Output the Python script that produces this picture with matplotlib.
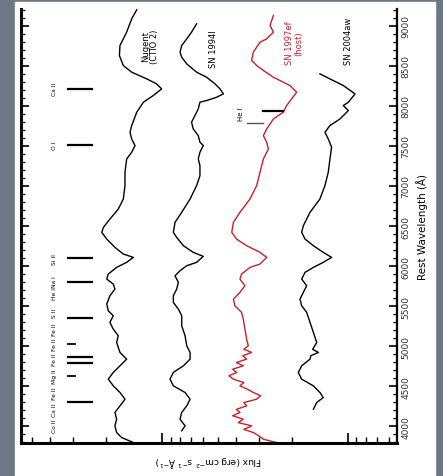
import matplotlib
matplotlib.use("Agg")
import matplotlib.pyplot as plt
import numpy as np
from matplotlib.patches import Rectangle
from matplotlib.ticker import MultipleLocator, LogLocator, NullFormatter

# spectra: rest wavelength (A) and log10 flux (+ const)
s1_wave = [9200, 9087, 8921, 8754, 8629, 8504, 8421, 8337, 8275, 8212, 8129, 8046,
           7921, 7754, 7671, 7587, 7504, 7421, 7337, 7171, 7004, 6837, 6712, 6587,
           6483, 6421, 6337, 6233, 6150, 6108, 6046, 5983, 5900, 5837, 5775, 5712,
           5629, 5525, 5442, 5379, 5296, 5212, 5129, 5046, 4921, 4837, 4754, 4671,
           4587, 4504, 4421, 4337, 4254, 4171, 4087, 4004, 3921, 3858, 3796]
s1_logf = [1.136, 1.163, 1.190, 1.226, 1.229, 1.208, 1.163, 1.082, 1.029, 1.002, 1.047, 1.100,
           1.136, 1.163, 1.172, 1.163, 1.145, 1.163, 1.190, 1.199, 1.199, 1.208, 1.235, 1.280,
           1.315, 1.324, 1.297, 1.253, 1.208, 1.154, 1.190, 1.244, 1.289, 1.297, 1.262, 1.253,
           1.280, 1.297, 1.289, 1.262, 1.280, 1.262, 1.235, 1.244, 1.226, 1.190, 1.226, 1.262,
           1.289, 1.262, 1.226, 1.199, 1.226, 1.253, 1.244, 1.253, 1.244, 1.217, 1.154]

s2_wave = [9025, 8921, 8837, 8754, 8671, 8608, 8525, 8421, 8358, 8275, 8212, 8150,
           8108, 8067, 8046, 7962, 7879, 7796, 7712, 7629, 7546, 7504, 7421, 7337,
           7254, 7129, 7004, 6837, 6671, 6546, 6421, 6358, 6254, 6171, 6121, 6046,
           6004, 5942, 5879, 5796, 5712, 5629, 5546, 5462, 5379, 5254, 5129, 5004,
           4921, 4837, 4754, 4671, 4587, 4504, 4421, 4337, 4254, 4171, 4087, 4004, 3942]
s2_logf = [0.814, 0.841, 0.867, 0.894, 0.903, 0.894, 0.867, 0.814, 0.760, 0.715, 0.688, 0.670,
           0.706, 0.760, 0.796, 0.805, 0.823, 0.841, 0.832, 0.805, 0.796, 0.778, 0.796, 0.805,
           0.796, 0.796, 0.814, 0.849, 0.894, 0.930, 0.939, 0.921, 0.885, 0.832, 0.778, 0.814,
           0.867, 0.903, 0.930, 0.912, 0.921, 0.939, 0.939, 0.912, 0.894, 0.894, 0.876, 0.867,
           0.849, 0.849, 0.885, 0.939, 0.957, 0.939, 0.876, 0.849, 0.867, 0.894, 0.903, 0.876, 0.894]

s3_wave = [9129, 9004, 8921, 8837, 8796, 8671, 8567, 8504, 8442, 8358, 8296, 8254,
           8171, 8087, 8004, 7921, 7837, 7712, 7629, 7546, 7462, 7337, 7171, 7004,
           6837, 6671, 6546, 6421, 6337, 6254, 6171, 6108, 6025, 5983, 5900, 5837,
           5754, 5671, 5587, 5504, 5421, 5337, 5212, 5087, 5004, 4960, 4921, 4880,
           4837, 4795, 4754, 4712, 4671, 4630, 4587, 4545, 4504, 4460, 4421, 4380,
           4337, 4295, 4254, 4210, 4171, 4130, 4087, 4045, 4004, 3960, 3921, 3880,
           3837, 3796]
s3_logf = [0.401, 0.419, 0.401, 0.437, 0.473, 0.509, 0.518, 0.491, 0.455, 0.401, 0.348, 0.312,
           0.276, 0.303, 0.330, 0.348, 0.401, 0.437, 0.455, 0.437, 0.428, 0.455, 0.473, 0.491,
           0.527, 0.581, 0.616, 0.625, 0.599, 0.545, 0.473, 0.437, 0.473, 0.527, 0.572, 0.581,
           0.554, 0.581, 0.616, 0.608, 0.572, 0.563, 0.554, 0.545, 0.536, 0.560, 0.518, 0.565,
           0.545, 0.600, 0.563, 0.620, 0.599, 0.640, 0.616, 0.560, 0.581, 0.540, 0.509, 0.470,
           0.491, 0.560, 0.545, 0.600, 0.581, 0.620, 0.563, 0.590, 0.518, 0.560, 0.509, 0.480,
           0.455, 0.384]

s4_wave = [8400, 8337, 8254, 8150, 8046, 8004, 7942, 7837, 7754, 7671, 7587, 7483,
           7337, 7171, 7004, 6837, 6671, 6504, 6421, 6337, 6254, 6171, 6108, 6046,
           5983, 5921, 5837, 5754, 5671, 5587, 5504, 5421, 5296, 5171, 5046, 4960,
           4921, 4880, 4837, 4754, 4671, 4587, 4504, 4421, 4358, 4296, 4212]
s4_logf = [0.151, 0.097, 0.025, -0.038, -0.002, 0.025, -0.002, 0.043, 0.097, 0.124, 0.106, 0.088,
           0.097, 0.106, 0.124, 0.151, 0.204, 0.240, 0.249, 0.231, 0.186, 0.133, 0.088, 0.133,
           0.186, 0.231, 0.249, 0.222, 0.240, 0.258, 0.249, 0.222, 0.204, 0.186, 0.168, 0.190,
           0.159, 0.200, 0.204, 0.249, 0.267, 0.249, 0.186, 0.151, 0.133, 0.168, 0.186]

spec_names = ["Nugent\n(CTIO 2)", "SN 1994I", "SN 1997ef\n(host)", "SN 2004aw"]
spec_colors = ["black", "black", "#c8202a", "black"]
name_wave = [8750, 8725, 8790, 8817]
name_logf = [1.065, 0.724, 0.290, -0.002]

# line identifications
id_wave = [8212, 7512, 6096, 5810, 5660, 5421, 5212, 5025, 4837, 4629, 4421, 4212, 4004]
id_label = ["Ca II", "O I", "Si II", "Na I", "He I", "S II", "Fe II", "Fe II",
            "Fe II", "Mg II", "Fe II", "Ca II", "Co II"]
mark_wave = [8212, 7512, 6096, 5796, 5350, 5025, 4860, 4790, 4629, 4300]
mark_short = [False, False, False, False, False, True, False, False, True, False]

fig = plt.figure(figsize=(4.43, 4.77), dpi=100, facecolor="#6b7886")
fig.patches.append(Rectangle((15 / 443, 0), 420 / 443, 474 / 477,
                             transform=fig.transFigure, color="white", zorder=-1))
ax = fig.add_axes([21 / 443, 33 / 477, 376 / 443, 434 / 477])
ax.set_facecolor("white")

for w, lf, c in zip([s1_wave, s2_wave, s3_wave, s4_wave],
                    [s1_logf, s2_logf, s3_logf, s4_logf], spec_colors):
    ax.plot(10 ** np.array(lf), w, color=c, lw=1.0)

for name, w, lf, c in zip(spec_names, name_wave, name_logf, spec_colors):
    ax.text(10 ** lf, w, name, rotation=90, ha="center", va="center",
            fontsize=6, color=c, linespacing=1.0)

for w, lab in zip(id_wave, id_label):
    ax.text(38, w, lab, rotation=90, ha="center", va="center", fontsize=4.3)
for w, short in zip(mark_wave, mark_short):
    if short:
        ax.plot([32, 29.5], [w, w], color="black", lw=1.3)
    else:
        ax.plot([32, 23.8], [w, w], color="black", lw=1.6)

# feature marked on the red spectrum
ax.plot([2.86, 2.24], [7942, 7942], color="black", lw=1.6)
ax.plot([3.49, 2.86], [7787, 7787], color="#555555", lw=1.0)
ax.text(3.75, 7905, "He I", rotation=90, ha="center", va="center", fontsize=5)

ax.set_xscale("log")
ax.set_xlim(57.3, 0.545)
ax.set_ylim(3790, 9210)
ax.xaxis.set_major_locator(LogLocator(base=10))
ax.xaxis.set_minor_locator(LogLocator(base=10, subs=np.arange(2, 10)))
ax.xaxis.set_major_formatter(NullFormatter())
ax.xaxis.set_minor_formatter(NullFormatter())
ax.yaxis.set_major_locator(MultipleLocator(500))
ax.yaxis.set_minor_locator(MultipleLocator(100))

ax.tick_params(axis="both", which="both", direction="in")
ax.tick_params(axis="x", which="major", length=7, width=1.2, bottom=True, top=False)
ax.tick_params(axis="x", which="minor", length=4, width=1.0, bottom=True, top=False)
ax.tick_params(axis="y", which="major", length=6, width=1.2, left=True, right=True,
               labelleft=False, labelright=True, labelrotation=90, labelsize=6.5,
               labelcolor="#333333", pad=3)
ax.tick_params(axis="y", which="minor", length=3, width=0.9, left=True, right=True)
for lab in ax.get_yticklabels():
    lab.set_va("center")

ax.spines["top"].set_visible(False)
ax.spines["left"].set_linewidth(2.2)
ax.spines["bottom"].set_linewidth(2.2)
ax.spines["right"].set_linewidth(1.6)

ax.yaxis.set_label_position("right")
ax.set_ylabel("Rest Wavelength (Å)", fontsize=7.5, rotation=90, labelpad=4)
ax.set_xlabel("Flux (erg cm$^{-2}$ s$^{-1}$ Å$^{-1}$)", fontsize=6.5,
              rotation=180, labelpad=4)

fig.savefig("out.png", dpi=100, facecolor=fig.get_facecolor())
